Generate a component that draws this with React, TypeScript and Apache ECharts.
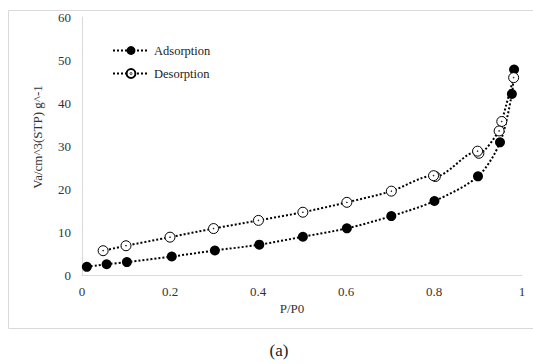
import React, { useEffect, useRef } from "react";
import * as echarts from "echarts";

const adsX = [0.011, 0.056, 0.102, 0.204, 0.302, 0.403, 0.502, 0.602, 0.703, 0.801, 0.9, 0.95, 0.977, 0.982];
const adsY = [1.9, 2.5, 3.0, 4.3, 5.7, 7.05, 8.9, 10.85, 13.7, 17.2, 22.95, 30.85, 42.1, 47.8];
const desX = [0.981, 0.954, 0.948, 0.902, 0.899, 0.803, 0.799, 0.703, 0.602, 0.502, 0.401, 0.299, 0.2, 0.1, 0.048];
const desY = [45.9, 35.7, 33.5, 28.3, 28.8, 22.9, 23.1, 19.5, 16.9, 14.6, 12.7, 10.8, 8.8, 6.8, 5.65];
const xTicks = [0, 0.2, 0.4, 0.6, 0.8, 1];
const yTicks = [0, 10, 20, 30, 40, 50, 60];
const seriesNames = ["Adsorption", "Desorption"];

const FONT = "Liberation Serif, Times New Roman, serif";
const openCircle =
  "path://M0,10 A10,10 0 1,1 20,10 A10,10 0 1,1 0,10 Z M9.2,10 A0.8,0.8 0 1,1 10.8,10 A0.8,0.8 0 1,1 9.2,10 Z";

export default function App() {
  const ref = useRef<HTMLDivElement>(null);
  useEffect(() => {
    document.body.style.margin = "0";
    const chart = echarts.init(ref.current!, null, { renderer: "svg" });
    const ads = adsX.map((x, i) => [x, adsY[i]]);
    const des = desX.map((x, i) => [x, desY[i]]);
    chart.setOption({
      animation: false,
      backgroundColor: "#fff",
      grid: { left: 82, right: 11, top: 17, bottom: 89 },
      xAxis: {
        type: "value",
        min: 0,
        max: 1,
        interval: 0.2,
        axisLine: { show: true, lineStyle: { color: "#d9d9d9", width: 1 } },
        axisTick: { show: false },
        splitLine: { show: false },
        axisLabel: {
          margin: 10,
          fontFamily: FONT,
          fontSize: 13,
          color: "#333",
          formatter: (v: number) => (xTicks.includes(Math.round(v * 10) / 10) ? String(Math.round(v * 10) / 10) : ""),
        },
      },
      yAxis: {
        type: "value",
        min: 0,
        max: 60,
        interval: 10,
        axisLine: { show: true, lineStyle: { color: "#d9d9d9", width: 1 } },
        axisTick: { show: false },
        splitLine: { show: false },
        axisLabel: {
          margin: 11,
          fontFamily: FONT,
          fontSize: 13,
          color: "#333",
          formatter: (v: number) => (yTicks.includes(v) ? String(v) : ""),
        },
      },
      legend: {
        data: seriesNames,
        orient: "vertical",
        left: 107,
        top: 39,
        itemWidth: 36,
        itemHeight: 11,
        itemGap: 10,
        textStyle: { fontFamily: FONT, fontSize: 12.5, color: "#222" },
      },
      graphic: [
        {
          type: "rect",
          shape: { x: 8.5, y: 10.5, width: 540, height: 318 },
          style: { fill: "none", stroke: "#d9d9d9", lineWidth: 1 },
          silent: true,
        },
        {
          type: "text",
          x: 292,
          y: 308,
          style: { text: "P/P0", font: `13px ${FONT}`, fill: "#333", align: "center", verticalAlign: "middle" },
        },
        {
          type: "text",
          x: 37,
          y: 137,
          rotation: Math.PI / 2,
          style: { text: "Va/cm^3(STP) g^-1", font: `13px ${FONT}`, fill: "#333", align: "center", verticalAlign: "middle" },
        },
        {
          type: "text",
          x: 279,
          y: 350,
          style: { text: "(a)", font: `17px ${FONT}`, fill: "#222", align: "center", verticalAlign: "middle" },
        },
      ],
      series: [
        {
          name: seriesNames[0],
          type: "line",
          data: ads,
          smooth: 0.3,
          symbol: "circle",
          symbolSize: 10,
          itemStyle: { color: "#000" },
          lineStyle: { color: "#000", width: 2, type: "dotted" },
          z: 2,
        },
        {
          name: seriesNames[1],
          type: "line",
          data: des,
          smooth: 0.3,
          symbol: openCircle,
          symbolSize: 10,
          itemStyle: { color: "#fff", borderColor: "#000", borderWidth: 1 },
          lineStyle: { color: "#000", width: 2, type: "dotted" },
          z: 3,
        },
      ],
    });
    return () => chart.dispose();
  }, []);
  return <div ref={ref} style={{ width: 533, height: 364 }} />;
}
